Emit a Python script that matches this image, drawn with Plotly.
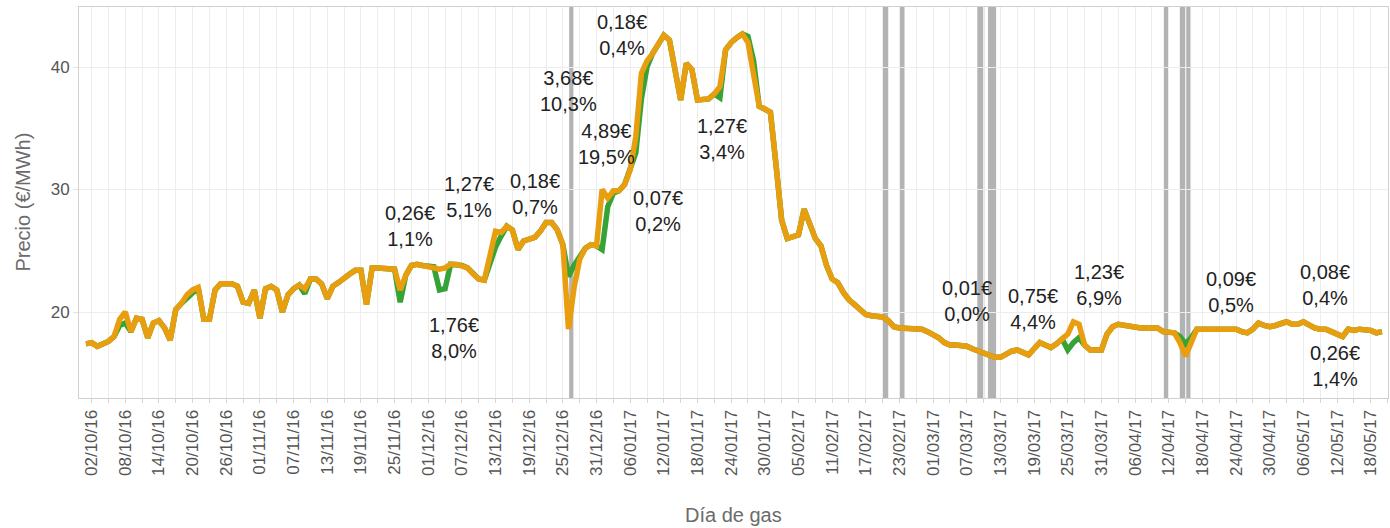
import pandas as pd
import plotly.graph_objects as go

# ---- data ----
start_date = "2016-10-01"
precio_a = [  # orange series (daily, from 01/10/16)
    17.4, 17.5, 17.2, 17.4, 17.6, 18.0, 19.4, 20.0, 18.4, 19.5,
    19.4, 17.9, 19.1, 19.3, 18.7, 17.7, 20.2, 20.7, 21.4, 21.8,
    22.0, 19.4, 19.4, 21.8, 22.3, 22.3, 22.3, 22.1, 20.8, 20.7,
    21.8, 19.5, 21.9, 22.1, 21.8, 20.0, 21.4, 21.9, 22.2, 21.9,
    22.7, 22.7, 22.3, 21.1, 22.1, 22.4, 22.8, 23.1, 23.4, 23.4,
    20.6, 23.6, 23.6, 23.6, 23.6, 23.5, 21.8, 23.0, 23.8, 23.9,
    23.8, 23.7, 23.7, 23.5, 23.6, 23.9, 23.9, 23.8, 23.6, 23.1,
    22.7, 22.6, 24.6, 26.6, 26.5, 27.0, 26.7, 25.1, 25.8, 26.0,
    26.1, 26.6, 27.3, 27.3, 26.7, 25.5, 18.6, 22.0, 24.3, 25.2,
    25.5, 25.4, 30.0, 29.3, 29.9, 29.9, 30.4, 31.6, 34.3, 39.5,
    40.5, 41.1, 41.8, 42.6, 42.2, 39.5, 37.3, 40.3, 39.8, 37.3,
    37.3, 37.4, 37.8, 38.4, 41.4, 42.0, 42.4, 42.7, 42.0, 39.5,
    36.8, 36.6, 36.3, 32.0, 27.5, 26.0, 26.1, 26.3, 28.4, 27.2,
    26.0, 25.4, 23.8, 22.7, 22.4, 21.6, 21.0, 20.6, 20.2, 19.8,
    19.7, 19.7, 19.6, 19.3, 18.8, 18.7, 18.7, 18.7, 18.7, 18.6,
    18.4, 18.2, 17.9, 17.5, 17.3, 17.3, 17.3, 17.2, 17.0, 16.8,
    16.6, 16.4, 16.3, 16.3, 16.6, 16.8, 16.9, 16.7, 16.5, 17.0,
    17.5, 17.3, 17.1, 17.4, 17.8, 18.2, 19.2, 19.0, 17.3, 16.9,
    16.9, 16.9, 18.2, 18.8, 19.0, 18.9, 18.8, 18.7, 18.7, 18.7,
    18.7, 18.7, 18.4, 18.3, 18.3, 17.5, 16.4, 17.5, 18.6, 18.6,
    18.6, 18.6, 18.6, 18.6, 18.7, 18.6, 18.4, 18.3, 18.6, 19.1,
    18.9, 18.8, 18.9, 19.0, 19.2, 19.0, 19.0, 19.2, 18.9, 18.7,
    18.6, 18.6, 18.4, 18.2, 18.0, 18.6, 18.5, 18.6, 18.6, 18.5,
    18.3, 18.4,
]
precio_b = [  # green series (daily, from 01/10/16)
    17.4, 17.5, 17.2, 17.4, 17.6, 18.0, 18.9, 19.1, 18.4, 19.5,
    19.4, 17.9, 19.1, 19.3, 18.7, 17.7, 20.2, 20.7, 21.1, 21.6,
    22.0, 19.4, 19.4, 21.8, 22.3, 22.3, 22.3, 22.1, 20.8, 20.7,
    21.8, 19.5, 21.9, 22.1, 21.8, 20.0, 21.4, 21.9, 22.2, 21.5,
    22.7, 22.7, 22.3, 21.1, 22.1, 22.4, 22.8, 23.1, 23.4, 23.4,
    20.6, 23.6, 23.6, 23.6, 23.6, 23.5, 20.8, 23.0, 23.8, 23.9,
    23.8, 23.7, 23.7, 21.8, 21.9, 23.9, 23.9, 23.8, 23.6, 23.1,
    22.7, 22.6, 24.0, 25.3, 26.2, 27.0, 26.7, 25.1, 25.8, 26.0,
    26.1, 26.6, 27.3, 27.3, 26.7, 25.5, 22.9, 23.8, 24.6, 25.2,
    25.5, 25.4, 25.1, 28.6, 29.7, 29.9, 30.4, 31.6, 33.0, 37.4,
    40.0, 41.1, 41.8, 42.6, 42.2, 39.5, 37.3, 40.3, 39.8, 37.3,
    37.3, 37.4, 37.8, 37.5, 41.4, 42.0, 42.4, 42.7, 42.5, 40.5,
    36.8, 36.6, 36.3, 32.0, 27.5, 26.0, 26.1, 26.3, 28.4, 27.2,
    26.0, 25.4, 23.8, 22.7, 22.4, 21.6, 21.0, 20.6, 20.2, 19.8,
    19.7, 19.7, 19.6, 19.3, 18.8, 18.7, 18.7, 18.7, 18.7, 18.6,
    18.4, 18.2, 17.9, 17.5, 17.3, 17.3, 17.3, 17.2, 17.0, 16.8,
    16.6, 16.4, 16.3, 16.3, 16.6, 16.8, 16.9, 16.7, 16.5, 17.0,
    17.5, 17.3, 17.1, 17.4, 17.8, 16.9, 17.5, 17.9, 17.3, 16.9,
    16.9, 16.9, 18.2, 18.8, 19.0, 18.9, 18.8, 18.7, 18.7, 18.7,
    18.7, 18.7, 18.4, 18.3, 18.3, 18.0, 17.4, 17.9, 18.6, 18.6,
    18.6, 18.6, 18.6, 18.6, 18.7, 18.6, 18.4, 18.3, 18.6, 19.1,
    18.9, 18.8, 18.9, 19.0, 19.2, 19.0, 19.0, 19.2, 18.9, 18.7,
    18.6, 18.6, 18.4, 18.2, 18.0, 18.6, 18.5, 18.6, 18.6, 18.5,
    18.3, 18.4,
]
dias_marcados = ["2016-12-26", "2017-02-20", "2017-02-23", "2017-03-09",
                 "2017-03-11", "2017-04-11", "2017-04-14", "2017-04-15"]
ancho_marcas = [0.75, 1.0, 0.8, 1.25, 1.45, 0.75, 1.05, 0.75]  # days

etiquetas = ["0,26€<br>1,1%", "1,27€<br>5,1%", "0,18€<br>0,7%", "1,76€<br>8,0%",
             "3,68€<br>10,3%", "0,18€<br>0,4%", "4,89€<br>19,5%", "0,07€<br>0,2%",
             "1,27€<br>3,4%", "0,01€<br>0,0%", "0,75€<br>4,4%", "1,23€<br>6,9%",
             "0,09€<br>0,5%", "0,08€<br>0,4%", "0,26€<br>1,4%"]
etiqueta_x = ["2016-11-27 17:00", "2016-12-08 07:00", "2016-12-20 00:00", "2016-12-05 14:00",
              "2016-12-25 22:00", "2017-01-04 12:00", "2017-01-01 17:00", "2017-01-10 22:00",
              "2017-01-22 07:00", "2017-03-07 00:00", "2017-03-18 19:00", "2017-03-30 14:00",
              "2017-04-23 02:00", "2017-05-09 19:00", "2017-05-11 14:00"]
etiqueta_y = [27.06, 29.35, 29.67, 17.88, 38.04, 42.61, 33.71, 28.24, 34.12,
              20.90, 20.24, 22.20, 21.63, 22.2, 15.63]

fechas = pd.date_range(start_date, periods=len(precio_a), freq="D")

FONT = "Arial, Liberation Sans, sans-serif"
fig = go.Figure()

for d, w in zip(dias_marcados, ancho_marcas):
    c = pd.Timestamp(d) + pd.Timedelta(hours=12)
    half = pd.Timedelta(days=w / 2)
    fig.add_shape(type="rect", xref="x", yref="paper", x0=c - half, x1=c + half,
                  y0=0, y1=1, fillcolor="#b3b3b3", line_width=0, layer="below")

fig.add_trace(go.Scatter(x=fechas, y=precio_b, mode="lines",
                         line=dict(color="#35a335", width=5.5), hoverinfo="skip"))
fig.add_trace(go.Scatter(x=fechas, y=precio_a, mode="lines",
                         line=dict(color="#e89e0e", width=5.5), hoverinfo="skip"))

for t, x, y in zip(etiquetas, etiqueta_x, etiqueta_y):
    fig.add_annotation(x=x, y=y, xref="x", yref="y", text=t, showarrow=False,
                       xanchor="center", yanchor="middle", align="center",
                       font=dict(family=FONT, size=20, color="#222222"))

fig.add_annotation(xref="paper", yref="paper", x=0, y=0.5, xshift=-57,
                   text="Precio (€/MWh)", textangle=-90, showarrow=False,
                   xanchor="center", yanchor="middle",
                   font=dict(family=FONT, size=20, color="#6b6b6b"))
fig.add_annotation(xref="paper", yref="paper", x=0.5, y=0, yshift=-117,
                   text="Día de gas", showarrow=False,
                   xanchor="center", yanchor="middle",
                   font=dict(family=FONT, size=20, color="#6b6b6b"))

fig.update_layout(
    width=1390, height=528,
    margin=dict(l=79, r=2, t=7, b=130),
    paper_bgcolor="white", plot_bgcolor="white",
    showlegend=False,
)
fig.update_xaxes(
    type="date",
    range=["2016-09-29 18:00", "2017-05-21 02:00"],
    tick0="2016-10-02", dtick=6 * 86400000, tickformat="%d/%m/%y",
    tickangle=-90, ticks="outside", ticklen=4, tickcolor="#d4d4d4",
    tickfont=dict(family=FONT, size=17, color="#555555"),
    showgrid=True, gridcolor="#ededed", gridwidth=1,
    minor=dict(tick0="2016-10-02", dtick=3 * 86400000, ticks="outside", ticklen=4,
               tickcolor="#d4d4d4", showgrid=True, gridcolor="#ededed", gridwidth=1),
    showline=True, linecolor="#d0d0d0", linewidth=1, mirror=True,
    zeroline=False, automargin=False,
)
fig.update_yaxes(
    range=[12.98, 44.9], tickvals=[20, 30, 40],
    ticks="outside", ticklen=5, tickcolor="#e3e3e3",
    tickfont=dict(family=FONT, size=17, color="#555555"),
    showgrid=True, gridcolor="#ededed", gridwidth=1,
    showline=True, linecolor="#d0d0d0", linewidth=1, mirror=True,
    zeroline=False, automargin=False,
)

fig.write_html("out.html", config={"displayModeBar": False},
               post_script="document.body.style.margin='0';document.body.style.overflow='hidden';")
